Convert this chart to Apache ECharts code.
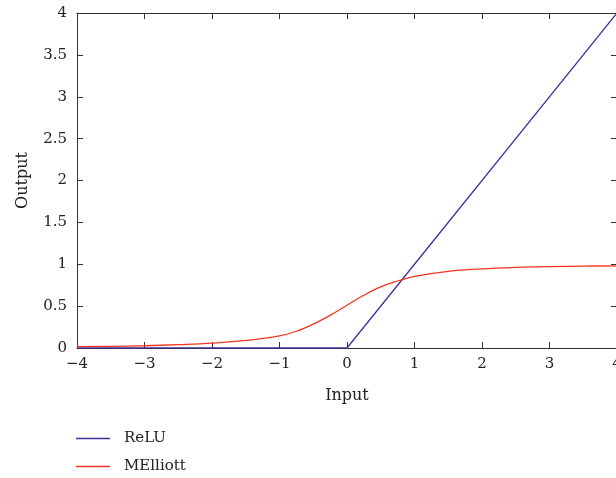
<!DOCTYPE html>
<html>
<head>
<meta charset="utf-8">
<script src="https://cdn.jsdelivr.net/npm/echarts@6/dist/echarts.min.js"></script>
<style>html,body{margin:0;padding:0;background:#fff}#c{width:616px;height:478px}</style>
</head>
<body>
<div id="c"></div>
<script>
var seriesNames = ['ReLU', 'MElliott'];
var reluX = [-4, 0, 4];
var reluY = [0, 0, 4];
var mellX = [-4, -3.5, -3, -2.5, -2, -1.5, -1, -0.75, -0.5, -0.25, 0, 0.25, 0.5, 0.75, 1, 1.5, 2, 2.5, 3, 3.5, 4];
var mellY = [0.016, 0.02, 0.027, 0.04, 0.058, 0.09, 0.145, 0.2, 0.285, 0.39, 0.51, 0.63, 0.73, 0.8, 0.855, 0.915, 0.945, 0.962, 0.972, 0.978, 0.98];
var xTicks = [-4, -3, -2, -1, 0, 1, 2, 3, 4];
var yTicks = [0, 0.5, 1, 1.5, 2, 2.5, 3, 3.5, 4];

function pairs(xs, ys) { return xs.map(function (x, i) { return [x, ys[i]]; }); }
var font = 'DejaVu Serif';
var fs = 15;
var txtCol = '#222';
var axisCol = '#333';
var chart = echarts.init(document.getElementById('c'));
var axisBase = {
  type: 'value',
  axisLine: { show: true, onZero: false, lineStyle: { color: axisCol, width: 1 } },
  axisTick: { show: true, inside: true, length: 6, lineStyle: { color: axisCol } },
  splitLine: { show: false }
};
function legendFor(name, top) {
  return {
    orient: 'vertical', left: 76, top: top, padding: 0,
    itemWidth: 34, itemHeight: 1.5, icon: 'rect',
    textStyle: { fontFamily: font, fontSize: fs, color: txtCol, padding: [0, 0, 0, 9] },
    data: [name]
  };
}
chart.setOption({
  animation: false,
  textStyle: { fontFamily: font },
  grid: { left: 77, top: 13, width: 540, height: 335, outerBoundsMode: 'none', containLabel: false },
  legend: [legendFor(seriesNames[0], 431), legendFor(seriesNames[1], 459)],
  xAxis: [
    Object.assign({}, axisBase, {
      min: -4, max: 4, interval: 1, position: 'bottom',
      name: 'Input', nameLocation: 'middle', nameGap: 40,
      nameTextStyle: { fontFamily: font, fontSize: 16, color: txtCol },
      axisLabel: { margin: 9, fontFamily: font, fontSize: fs, color: txtCol,
        formatter: function (v) { return String(v).replace('-', '\u2212'); } }
    }),
    Object.assign({}, axisBase, { min: -4, max: 4, interval: 1, position: 'top', axisLabel: { show: false } })
  ],
  yAxis: [
    Object.assign({}, axisBase, {
      min: 0, max: 4, interval: 0.5, position: 'left',
      name: 'Output', nameLocation: 'middle', nameGap: 46, nameRotate: 90,
      nameTextStyle: { fontFamily: font, fontSize: 16, color: txtCol },
      axisLabel: { margin: 10, fontFamily: font, fontSize: fs, color: txtCol }
    }),
    Object.assign({}, axisBase, { min: 0, max: 4, interval: 0.5, position: 'right', axisLabel: { show: false } })
  ],
  series: [
    { name: seriesNames[0], type: 'line', data: pairs(reluX, reluY), showSymbol: false,
      lineStyle: { color: '#3b2f9e', width: 1.3 }, itemStyle: { color: '#3b2f9e' } },
    { name: seriesNames[1], type: 'line', data: pairs(mellX, mellY), showSymbol: false, smooth: 0.4,
      lineStyle: { color: '#f3361f', width: 1.3 }, itemStyle: { color: '#f3361f' } }
  ]
});
</script>
</body>
</html>
